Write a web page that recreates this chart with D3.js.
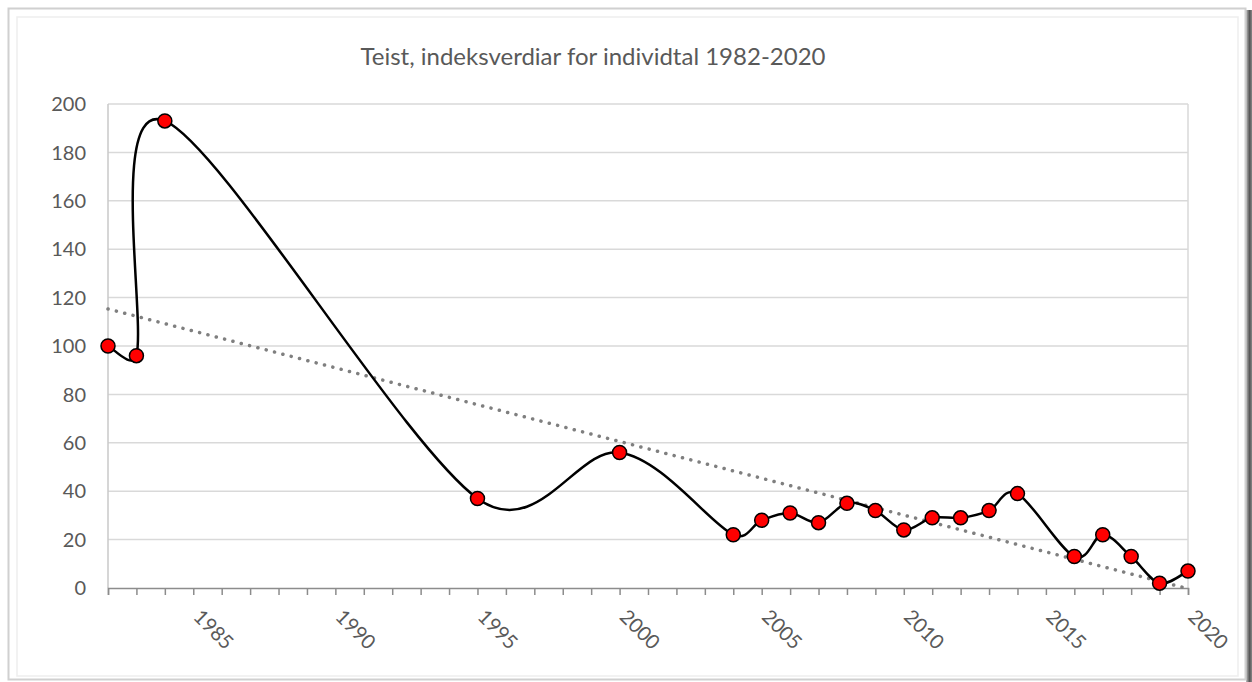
<!DOCTYPE html>
<html lang="nn">
<head>
    <meta charset="UTF-8">
    <title>Teist, indeksverdiar for individtal 1982-2020</title>
    <style>
        body, html {
          margin: 0;
          width: 100%;
          height: 100%;
          background: #fff;
        }

        svg {
          display: block;
        }

        .grid line {
            stroke: #d9d9d9;
            stroke-width: 1.5px;
        }

        .label {
            font-family: Lato, "Liberation Sans", sans-serif;
            fill: #595959;
        }
    </style>
</head>
<body>
    <svg width="1252" height="682"></svg>

    <script src="https://d3js.org/d3.v7.min.js"></script>
    <script>
        // data
        const years = [1982, 1983, 1984, 1995, 2000, 2004, 2005, 2006, 2007, 2008, 2009,
                       2010, 2011, 2012, 2013, 2014, 2016, 2017, 2018, 2019, 2020];
        const indexValues = [100, 96, 193, 37, 56, 22, 28, 31, 27, 35, 32,
                             24, 29, 29, 32, 39, 13, 22, 13, 2, 7];
        const yTicks = [0, 20, 40, 60, 80, 100, 120, 140, 160, 180, 200];
        const xLabels = [1985, 1990, 1995, 2000, 2005, 2010, 2015, 2020];
        const title = "Teist, indeksverdiar for individtal 1982-2020";

        const svg = d3.select("svg");
        const plot = { left: 108, right: 1188, top: 104, bottom: 588 };

        // frame round the chart
        const defs = svg.append("defs");
        const grad = defs.append("linearGradient").attr("id", "shadow");
        grad.append("stop").attr("offset", "0%").attr("stop-color", "#bbb");
        grad.append("stop").attr("offset", "60%").attr("stop-color", "#555");
        grad.append("stop").attr("offset", "100%").attr("stop-color", "#888");

        svg.append("rect")
           .attr("x", 1246).attr("y", 10).attr("width", 6).attr("height", 672)
           .attr("fill", "url(#shadow)");
        svg.append("rect")
           .attr("x", 8.5).attr("y", 8.5).attr("width", 1237).attr("height", 671)
           .attr("fill", "#fff").attr("stroke", "#d0d0d0").attr("stroke-width", 2);
        svg.append("rect")
           .attr("x", 17).attr("y", 17).attr("width", 1221).attr("height", 659)
           .attr("fill", "none").attr("stroke", "#eeeeee").attr("stroke-width", 1.5);

        const x = d3.scaleLinear().domain([1982, 2020]).range([plot.left, plot.right]);
        const y = d3.scaleLinear().domain([0, 200]).range([plot.bottom, plot.top]);

        // horizontal gridlines
        svg.append("g")
           .attr("class", "grid")
           .selectAll("line")
           .data(yTicks.filter(d => d > 0))
           .enter().append("line")
           .attr("x1", plot.left).attr("x2", plot.right)
           .attr("y1", d => y(d)).attr("y2", d => y(d));

        // left and right edges of the plot area
        svg.append("line")
           .attr("x1", plot.left).attr("x2", plot.left)
           .attr("y1", plot.top).attr("y2", plot.bottom)
           .attr("stroke", "#c8c8c8").attr("stroke-width", 1.5);
        svg.append("line")
           .attr("x1", plot.right).attr("x2", plot.right)
           .attr("y1", plot.top).attr("y2", plot.bottom)
           .attr("stroke", "#d9d9d9").attr("stroke-width", 1.5);

        // y axis labels
        svg.append("g")
           .selectAll("text")
           .data(yTicks)
           .enter().append("text")
           .attr("class", "label")
           .attr("x", 86)
           .attr("y", d => y(d))
           .attr("dy", "0.36em")
           .attr("text-anchor", "end")
           .style("font-size", "20px")
           .text(d => d);

        // x axis with a tick for every year
        const xAxis = d3.axisBottom(x)
                        .tickValues(d3.range(1982, 2021))
                        .tickSize(7)
                        .tickFormat("");
        const gx = svg.append("g")
                      .attr("transform", `translate(0,${plot.bottom})`)
                      .call(xAxis);
        gx.select(".domain").attr("stroke", "#8c8c8c").attr("stroke-width", 1.5);
        gx.selectAll(".tick line").attr("stroke", "#8c8c8c").attr("stroke-width", 1.5);

        svg.append("g")
           .selectAll("text")
           .data(xLabels)
           .enter().append("text")
           .attr("class", "label")
           .attr("transform", d => `translate(${x(d) - 1},${plot.bottom + 30}) rotate(45)`)
           .attr("text-anchor", "start")
           .style("font-size", "20px")
           .text(d => d);

        // linear trendline (least squares on the data)
        const mx = d3.mean(years), my = d3.mean(indexValues);
        const sxy = d3.sum(years, (d, i) => (d - mx) * (indexValues[i] - my));
        const sxx = d3.sum(years, d => (d - mx) * (d - mx));
        const slope = sxy / sxx, icpt = my - slope * mx;
        const trend = [1982, 2020].map(d => [d, icpt + slope * d]);

        svg.append("path")
           .datum(trend)
           .attr("fill", "none")
           .attr("stroke", "#7f7f7f")
           .attr("stroke-width", 3.5)
           .attr("stroke-linecap", "round")
           .attr("stroke-dasharray", "0.1,8.5")
           .attr("d", d3.line().x(d => x(d[0])).y(d => y(d[1])));

        // smoothed line, like the spreadsheet does it: catmull-rom tangents,
        // but a control arm is never longer than half of its segment
        function smoothPath(pts) {
            const p = d3.path();
            const n = pts.length;
            const tan = pts.map((pt, i) => {
                const a = pts[Math.max(i - 1, 0)], b = pts[Math.min(i + 1, n - 1)];
                return [(b[0] - a[0]) / 6, (b[1] - a[1]) / 6];
            });
            const clip = (t, segLen) => {
                const len = Math.hypot(t[0], t[1]);
                const k = len > segLen * 0.5 ? segLen * 0.5 / len : 1;
                return [t[0] * k, t[1] * k];
            };
            p.moveTo(pts[0][0], pts[0][1]);
            for (let i = 0; i < n - 1; i++) {
                const a = pts[i], b = pts[i + 1];
                const segLen = Math.hypot(b[0] - a[0], b[1] - a[1]);
                const t0 = clip(tan[i], segLen), t1 = clip(tan[i + 1], segLen);
                p.bezierCurveTo(a[0] + t0[0], a[1] + t0[1], b[0] - t1[0], b[1] - t1[1], b[0], b[1]);
            }
            return p.toString();
        }

        const series = years.map((d, i) => ({ year: d, value: indexValues[i] }));
        svg.append("path")
           .datum(series)
           .attr("fill", "none")
           .attr("stroke", "#000")
           .attr("stroke-width", 2.5)
           .attr("d", d => smoothPath(d.map(s => [x(s.year), y(s.value)])));

        svg.append("g")
           .selectAll("circle")
           .data(series)
           .enter().append("circle")
           .attr("cx", d => x(d.year))
           .attr("cy", d => y(d.value))
           .attr("r", 7)
           .attr("fill", "#ff0000")
           .attr("stroke", "#000")
           .attr("stroke-width", 1.5);

        // title
        svg.append("text")
           .attr("class", "label")
           .attr("x", 593)
           .attr("y", 65)
           .attr("text-anchor", "middle")
           .style("font-size", "24px")
           .text(title);
    </script>
</body>
</html>
